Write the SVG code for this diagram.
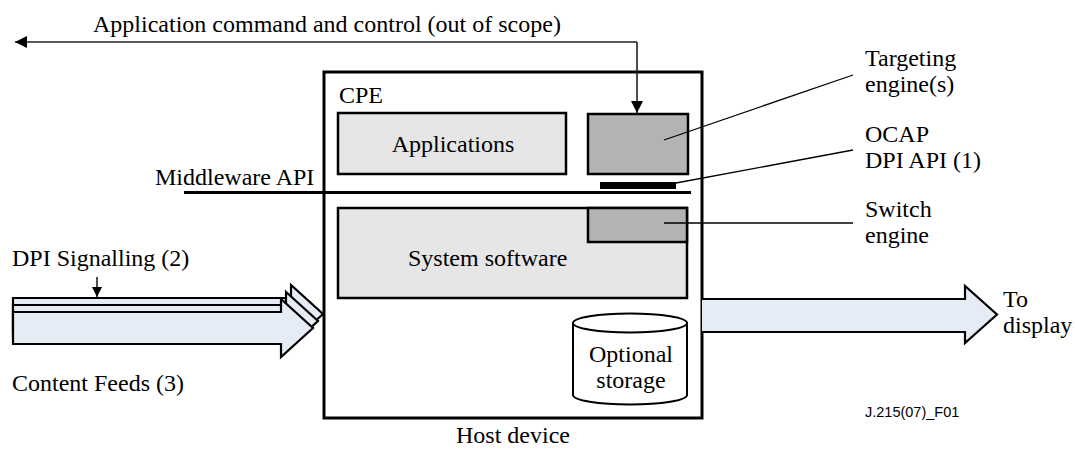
<svg xmlns="http://www.w3.org/2000/svg" width="1075" height="449" viewBox="0 0 1075 449" font-family="'Liberation Serif', 'Times New Roman', 'DejaVu Serif', serif">
<style>
text{font-family:'Liberation Serif','Times New Roman','DejaVu Serif',serif;font-size:24px;fill:#000}
.mid{text-anchor:middle}
.box{fill:#e6e6e6;stroke:#000;stroke-width:2.5}
.dark{fill:#b3b3b3;stroke:#000;stroke-width:2.5}
.flow{fill:#e5ecf6;stroke:#000;stroke-width:2.2;stroke-linejoin:miter}
.lead{fill:none;stroke:#000;stroke-width:1.3}
.ctl{fill:none;stroke:#222;stroke-width:1.6}
text.code{font-family:'Liberation Sans',Arial,sans-serif;font-size:14.5px}
</style>
<defs>
<marker id="ah" viewBox="0 0 10 10" refX="10" refY="5" markerWidth="10" markerHeight="10" markerUnits="userSpaceOnUse" orient="auto">
<path d="M0,0 L10,5 L0,10 Z" fill="#000"/>
</marker>
<marker id="ah2" viewBox="0 0 10 10" refX="10" refY="5" markerWidth="12" markerHeight="12" markerUnits="userSpaceOnUse" orient="auto">
<path d="M0,0 L10,5 L0,10 Z" fill="#000"/>
</marker>
</defs>

<g id="host">
<rect x="324" y="72" width="378" height="346" fill="#fff" stroke="#000" stroke-width="3"/>
<text x="339" y="103">CPE</text>
<text x="513" y="443" class="mid">Host device</text>
</g>

<g id="applications">
<rect class="box" x="338" y="113" width="228" height="61"/>
<text x="453" y="152" class="mid">Applications</text>
</g>

<g id="targeting">
<rect class="dark" x="588" y="114" width="100" height="60"/>
</g>

<g id="ocap-api">
<rect x="600" y="182" width="76" height="7" fill="#000"/>
</g>

<g id="middleware">
<line x1="184" y1="192.5" x2="691" y2="192.5" stroke="#000" stroke-width="3"/>
<text x="155" y="185">Middleware API</text>
</g>

<g id="system-software">
<rect class="box" x="338" y="208" width="349" height="90"/>
<text x="408" y="266">System software</text>
</g>

<g id="switch">
<rect class="dark" x="588" y="208" width="99" height="34"/>
</g>

<g id="storage">
<path d="M573,323 V395 A57,9.5 0 0 0 687,395 V323" fill="#fff" stroke="#000" stroke-width="2"/>
<ellipse cx="630" cy="323" rx="57" ry="9.5" fill="#fff" stroke="#000" stroke-width="2"/>
<text x="631" y="362" class="mid">Optional</text>
<text x="631" y="388" class="mid">storage</text>
</g>

<g id="content-feeds">
<path class="flow" d="M13,298 H291 V285 L323,314 L291,343 V330 H13 Z"/>
<path class="flow" d="M13,305 H286 V292 L318,321 L286,350 V337 H13 Z"/>
<path class="flow" d="M13,312 H281 V299 L313,328 L281,357 V344 H13 Z"/>
<text x="12" y="266">DPI Signalling (2)</text>
<text x="12" y="391">Content Feeds (3)</text>
</g>

<g id="to-display">
<path d="M702,299 H965 V286 L997,314.5 L965,343 V332 H702 Z" fill="#e5ecf6" stroke="none"/>
<path d="M702,299 H965 V286 L997,314.5 L965,343 V332 H702" fill="none" stroke="#000" stroke-width="2.2"/>
<text x="1003" y="307">To</text>
<text x="1003" y="333">display</text>
</g>

<g id="labels">
<text x="93" y="32">Application command and control (out of scope)</text>
<text x="865" y="66">Targeting</text>
<text x="865" y="92">engine(s)</text>
<text x="865" y="142">OCAP</text>
<text x="865" y="168">DPI API (1)</text>
<text x="865" y="217">Switch</text>
<text x="865" y="243">engine</text>
<text x="865" y="417" class="code">J.215(07)_F01</text>
</g>

<g id="connectors">
<path class="ctl" d="M637,42 H15" marker-end="url(#ah2)"/>
<line class="ctl" x1="637" y1="42" x2="637" y2="113" marker-end="url(#ah2)"/>
<line class="ctl" x1="97" y1="277" x2="97" y2="297" marker-end="url(#ah)"/>
<line class="lead" x1="664" y1="140" x2="853" y2="75"/>
<line class="lead" x1="676" y1="183" x2="853" y2="150"/>
<line class="lead" x1="664" y1="223" x2="853" y2="223"/>
</g>
</svg>
